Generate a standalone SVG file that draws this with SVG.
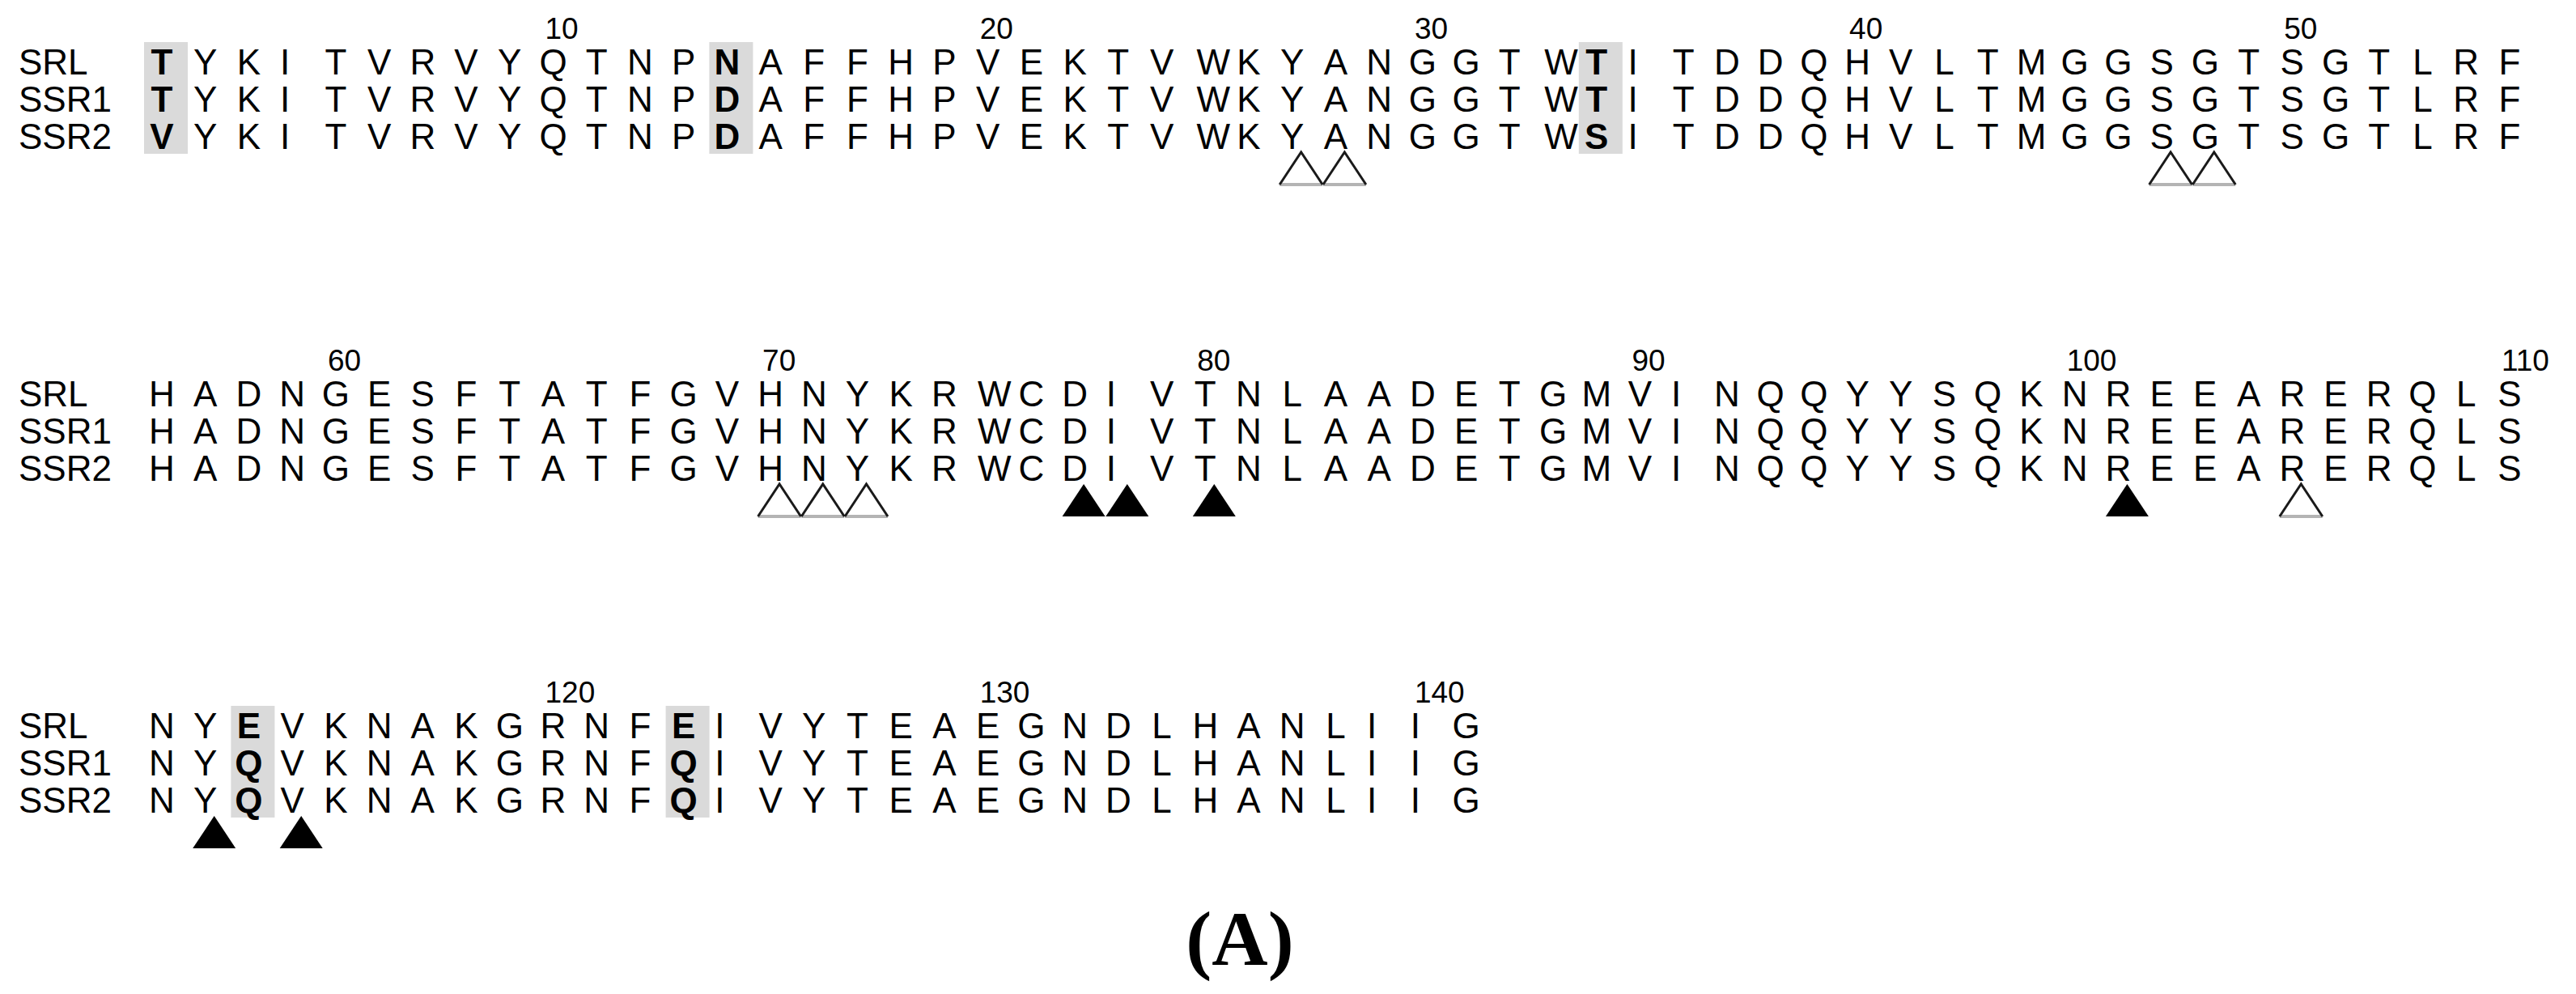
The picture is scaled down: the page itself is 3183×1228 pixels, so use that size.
<svg xmlns="http://www.w3.org/2000/svg" xmlns:xlink="http://www.w3.org/1999/xlink" width="3183" height="1228" viewBox="0 0 3183 1228">
<style>
text{font-family:"Liberation Sans",Arial,sans-serif;fill:#000}
.lab{font-size:44px}
.res{font-size:44px;text-anchor:middle}
.b{font-weight:bold}
.num{font-size:37px}
.box{fill:#dadada}
.cap{font-family:"Liberation Serif","Times New Roman",serif;font-size:96px;font-weight:bold;text-anchor:middle}
</style>
<defs>
<g id="tri-open">
<path d="M-26.5,40 H26.5" fill="none" stroke="#b4b4b4" stroke-width="4"/>
<path d="M-26.5,40 L0,0 L26.5,40" fill="none" stroke="#1a1a1a" stroke-width="3" stroke-linejoin="miter"/>
</g>
<polygon id="tri-fill" points="0,0 26.5,40 -26.5,40" fill="#000"/>
</defs>
<rect width="3183" height="1228" fill="#fff"/>

<g id="highlights">
<rect class="box" x="178" y="52" width="54" height="138"/>
<rect class="box" x="876.4" y="52" width="54" height="138"/>
<rect class="box" x="1950.8" y="52" width="54" height="138"/>
<rect class="box" x="285.4" y="872" width="54" height="138"/>
<rect class="box" x="822.6" y="872" width="54" height="138"/>
</g>

<g id="block1">
<g id="numbers1" class="num">
<text class="num" x="673.5" y="48">10</text>
<text class="num" x="1210.7" y="48">20</text>
<text class="num" x="1747.9" y="48">30</text>
<text class="num" x="2285.1" y="48">40</text>
<text class="num" x="2822.3" y="48">50</text>
</g>
<g id="labels1">
<text class="lab" x="23" y="92">SRL</text>
<text class="lab" x="23" y="138">SSR1</text>
<text class="lab" x="23" y="184">SSR2</text>
</g>
<g id="seq1-SRL">
<text class="res" y="92"><tspan class="b" x="200">T</tspan><tspan x="253.7 307.4 352.2 414.9 468.6 522.3 576 629.8 683.5 737.2 790.9 844.6">YKITVRVYQTNP</tspan><tspan class="b" x="898.4">N</tspan><tspan x="952.1 1005.8 1059.5 1113.2 1167 1220.7 1274.4 1328.1 1381.8 1435.6 1499.3 1543 1596.7 1650.4 1704.2 1757.9 1811.6 1865.3 1929">AFFHPVEKTVWKYANGGTW</tspan><tspan class="b" x="1972.8">T</tspan><tspan x="2017.5 2080.2 2133.9 2187.6 2241.4 2295.1 2348.8 2402.5 2456.2 2510 2563.7 2617.4 2671.1 2724.8 2778.6 2832.3 2886 2939.7 2993.4 3047.2 3100.9">ITDDQHVLTMGGSGTSGTLRF</tspan></text>
</g>
<g id="seq1-SSR1">
<text class="res" y="138"><tspan class="b" x="200">T</tspan><tspan x="253.7 307.4 352.2 414.9 468.6 522.3 576 629.8 683.5 737.2 790.9 844.6">YKITVRVYQTNP</tspan><tspan class="b" x="898.4">D</tspan><tspan x="952.1 1005.8 1059.5 1113.2 1167 1220.7 1274.4 1328.1 1381.8 1435.6 1499.3 1543 1596.7 1650.4 1704.2 1757.9 1811.6 1865.3 1929">AFFHPVEKTVWKYANGGTW</tspan><tspan class="b" x="1972.8">T</tspan><tspan x="2017.5 2080.2 2133.9 2187.6 2241.4 2295.1 2348.8 2402.5 2456.2 2510 2563.7 2617.4 2671.1 2724.8 2778.6 2832.3 2886 2939.7 2993.4 3047.2 3100.9">ITDDQHVLTMGGSGTSGTLRF</tspan></text>
</g>
<g id="seq1-SSR2">
<text class="res" y="184"><tspan class="b" x="200">V</tspan><tspan x="253.7 307.4 352.2 414.9 468.6 522.3 576 629.8 683.5 737.2 790.9 844.6">YKITVRVYQTNP</tspan><tspan class="b" x="898.4">D</tspan><tspan x="952.1 1005.8 1059.5 1113.2 1167 1220.7 1274.4 1328.1 1381.8 1435.6 1499.3 1543 1596.7 1650.4 1704.2 1757.9 1811.6 1865.3 1929">AFFHPVEKTVWKYANGGTW</tspan><tspan class="b" x="1972.8">S</tspan><tspan x="2017.5 2080.2 2133.9 2187.6 2241.4 2295.1 2348.8 2402.5 2456.2 2510 2563.7 2617.4 2671.1 2724.8 2778.6 2832.3 2886 2939.7 2993.4 3047.2 3100.9">ITDDQHVLTMGGSGTSGTLRF</tspan></text>
</g>
</g>

<g id="block2">
<g id="numbers2">
<text class="num" x="404.9" y="458">60</text>
<text class="num" x="942.1" y="458">70</text>
<text class="num" x="1479.3" y="458">80</text>
<text class="num" x="2016.5" y="458">90</text>
<text class="num" x="2553.7" y="458">100</text>
<text class="num" x="3090.9" y="458">110</text>
</g>
<g id="labels2">
<text class="lab" x="23" y="502">SRL</text>
<text class="lab" x="23" y="548">SSR1</text>
<text class="lab" x="23" y="594">SSR2</text>
</g>
<g id="seq2-SRL">
<text class="res" y="502" x="200 253.7 307.4 361.2 414.9 468.6 522.3 576 629.8 683.5 737.2 790.9 844.6 898.4 952.1 1005.8 1059.5 1113.2 1167 1228.7 1274.4 1328.1 1372.8 1435.6 1489.3 1543 1596.7 1650.4 1704.2 1757.9 1811.6 1865.3 1919 1972.8 2026.5 2071.2 2133.9 2187.6 2241.4 2295.1 2348.8 2402.5 2456.2 2510 2563.7 2617.4 2671.1 2724.8 2778.6 2832.3 2886 2939.7 2993.4 3047.2 3100.9">HADNGESFTATFGVHNYKRWCDIVTNLAADETGMVINQQYYSQKNREEARERQLS</text>
</g>
<g id="seq2-SSR1">
<text class="res" y="548" x="200 253.7 307.4 361.2 414.9 468.6 522.3 576 629.8 683.5 737.2 790.9 844.6 898.4 952.1 1005.8 1059.5 1113.2 1167 1228.7 1274.4 1328.1 1372.8 1435.6 1489.3 1543 1596.7 1650.4 1704.2 1757.9 1811.6 1865.3 1919 1972.8 2026.5 2071.2 2133.9 2187.6 2241.4 2295.1 2348.8 2402.5 2456.2 2510 2563.7 2617.4 2671.1 2724.8 2778.6 2832.3 2886 2939.7 2993.4 3047.2 3100.9">HADNGESFTATFGVHNYKRWCDIVTNLAADETGMVINQQYYSQKNREEARERQLS</text>
</g>
<g id="seq2-SSR2">
<text class="res" y="594" x="200 253.7 307.4 361.2 414.9 468.6 522.3 576 629.8 683.5 737.2 790.9 844.6 898.4 952.1 1005.8 1059.5 1113.2 1167 1228.7 1274.4 1328.1 1372.8 1435.6 1489.3 1543 1596.7 1650.4 1704.2 1757.9 1811.6 1865.3 1919 1972.8 2026.5 2071.2 2133.9 2187.6 2241.4 2295.1 2348.8 2402.5 2456.2 2510 2563.7 2617.4 2671.1 2724.8 2778.6 2832.3 2886 2939.7 2993.4 3047.2 3100.9">HADNGESFTATFGVHNYKRWCDIVTNLAADETGMVINQQYYSQKNREEARERQLS</text>
</g>
</g>

<g id="block3">
<g id="numbers3">
<text class="num" x="673.5" y="868">120</text>
<text class="num" x="1210.7" y="868">130</text>
<text class="num" x="1747.9" y="868">140</text>
</g>
<g id="labels3">
<text class="lab" x="23" y="912">SRL</text>
<text class="lab" x="23" y="958">SSR1</text>
<text class="lab" x="23" y="1004">SSR2</text>
</g>
<g id="seq3-SRL">
<text class="res" y="912"><tspan x="200 253.7">NY</tspan><tspan class="b" x="307.4">E</tspan><tspan x="361.2 414.9 468.6 522.3 576 629.8 683.5 737.2 790.9">VKNAKGRNF</tspan><tspan class="b" x="844.6">E</tspan><tspan x="889.4 952.1 1005.8 1059.5 1113.2 1167 1220.7 1274.4 1328.1 1381.8 1435.6 1489.3 1543 1596.7 1650.4 1695.2 1748.9 1811.6">IVYTEAEGNDLHANLIIG</tspan></text>
</g>
<g id="seq3-SSR1">
<text class="res" y="958"><tspan x="200 253.7">NY</tspan><tspan class="b" x="307.4">Q</tspan><tspan x="361.2 414.9 468.6 522.3 576 629.8 683.5 737.2 790.9">VKNAKGRNF</tspan><tspan class="b" x="844.6">Q</tspan><tspan x="889.4 952.1 1005.8 1059.5 1113.2 1167 1220.7 1274.4 1328.1 1381.8 1435.6 1489.3 1543 1596.7 1650.4 1695.2 1748.9 1811.6">IVYTEAEGNDLHANLIIG</tspan></text>
</g>
<g id="seq3-SSR2">
<text class="res" y="1004"><tspan x="200 253.7">NY</tspan><tspan class="b" x="307.4">Q</tspan><tspan x="361.2 414.9 468.6 522.3 576 629.8 683.5 737.2 790.9">VKNAKGRNF</tspan><tspan class="b" x="844.6">Q</tspan><tspan x="889.4 952.1 1005.8 1059.5 1113.2 1167 1220.7 1274.4 1328.1 1381.8 1435.6 1489.3 1543 1596.7 1650.4 1695.2 1748.9 1811.6">IVYTEAEGNDLHANLIIG</tspan></text>
</g>
</g>

<g id="markers">
<use href="#tri-open" x="1607.7" y="188"/>
<use href="#tri-open" x="1661.4" y="188"/>
<use href="#tri-open" x="2682.1" y="188"/>
<use href="#tri-open" x="2735.8" y="188"/>
<use href="#tri-open" x="963.1" y="598"/>
<use href="#tri-open" x="1016.8" y="598"/>
<use href="#tri-open" x="1070.5" y="598"/>
<use href="#tri-open" x="2843.3" y="598"/>
<use href="#tri-fill" x="1339.1" y="598"/>
<use href="#tri-fill" x="1392.8" y="598"/>
<use href="#tri-fill" x="1500.3" y="598"/>
<use href="#tri-fill" x="2628.4" y="598"/>
<use href="#tri-fill" x="264.7" y="1008"/>
<use href="#tri-fill" x="372.2" y="1008"/>
</g>

<g id="caption">
<text class="cap" x="1532" y="1192">(A)</text>
</g>
</svg>
